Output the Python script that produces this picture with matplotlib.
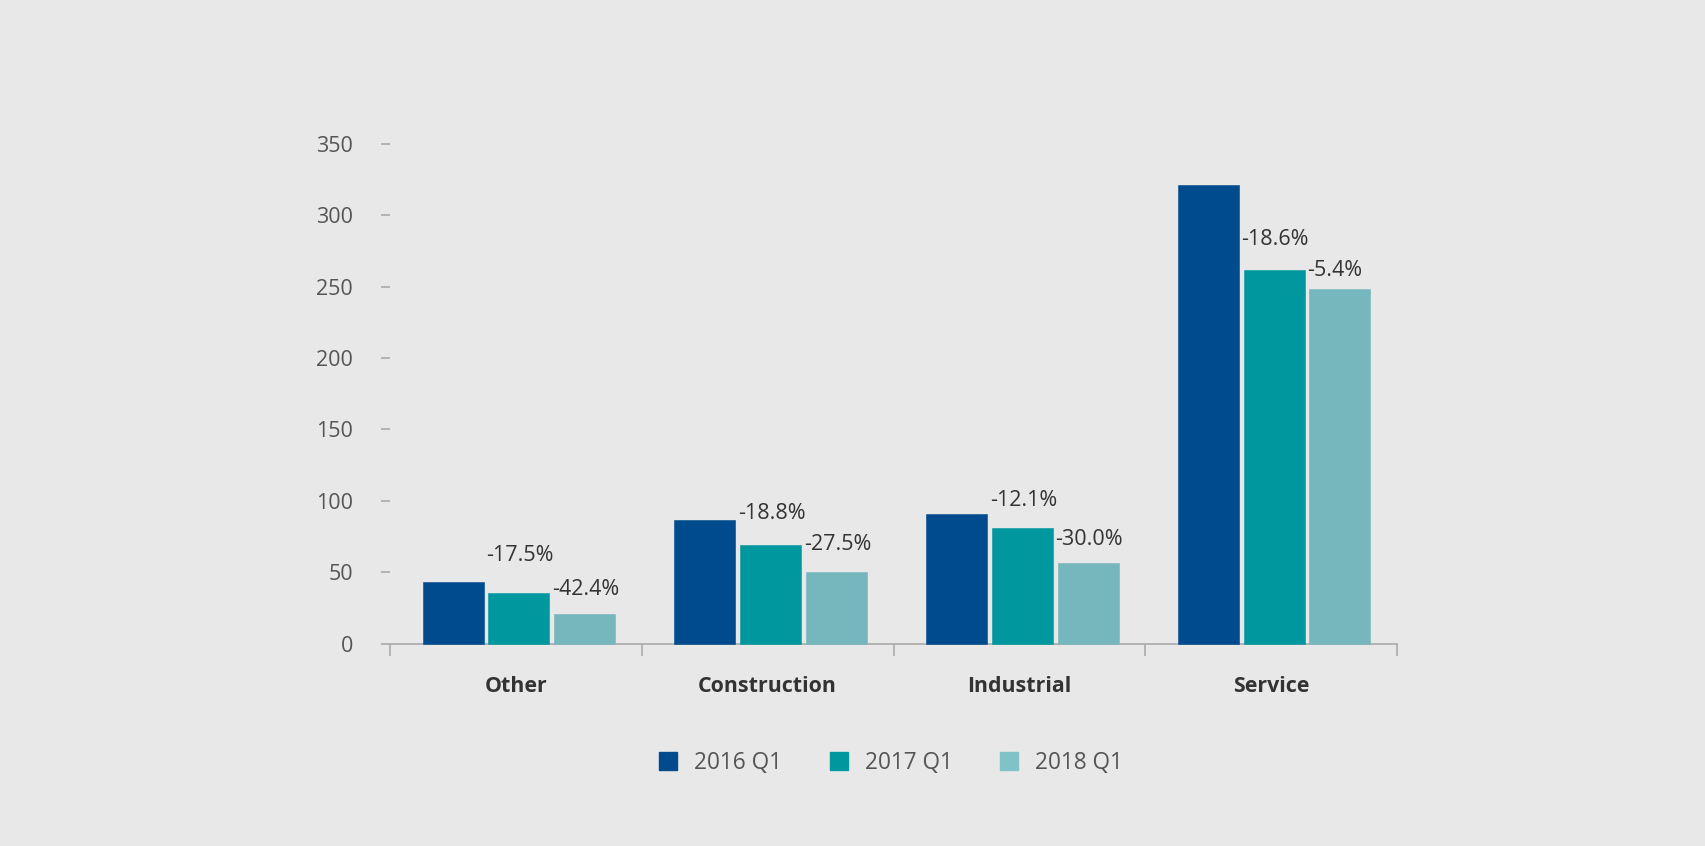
import matplotlib
matplotlib.use("Agg")
import matplotlib.pyplot as plt
from matplotlib.patches import Patch
import numpy as np

plt.rcParams['font.family'] = ['Open Sans', 'DejaVu Sans']

categories = ["Other", "Construction", "Industrial", "Service"]
series_names = ["2016 Q1", "2017 Q1", "2018 Q1"]
v2016 = [43.0, 86.4, 90.8, 321.1]
v2017 = [35.2, 68.8, 81.0, 261.4]
v2018 = [20.5, 50.0, 56.3, 248.1]
labels2017 = ["-17.5%", "-18.8%", "-12.1%", "-18.6%"]
labels2018 = ["-42.4%", "-27.5%", "-30.0%", "-5.4%"]
yticks = [0, 50, 100, 150, 200, 250, 300, 350]

# styling / layout
colors = ["#004B8D", "#00979E", "#75B7BD"]
legend_colors = ["#004B8D", "#00979E", "#7FC3C8"]
off2017 = [38, 32, 27, 31]   # label centre above bar top (px)
off2018 = [25, 28, 24, 19]

W, H = 1705, 846
fig = plt.figure(figsize=(W / 100, H / 100), dpi=100, facecolor="#E8E8E8")
ax_left, ax_right, ax_top, ax_bot = 390, 1397, 143.7, 643.7
ax = fig.add_axes([ax_left / W, 1 - ax_bot / H, (ax_right - ax_left) / W, (ax_bot - ax_top) / H])
ax.set_facecolor("#E8E8E8")

x = np.arange(len(categories))
step = 0.261
width = 0.242
shift = 0.012
series = [v2016, v2017, v2018]
bars = []
for i, (vals, c) in enumerate(zip(series, colors)):
    b = ax.bar(x + shift + (i - 1) * step, vals, width=width, color=c,
               edgecolor=c, linewidth=0.4, zorder=3, clip_on=False)
    bars.append(b)

for labs, offs, bs in [(labels2017, off2017, bars[1]), (labels2018, off2018, bars[2])]:
    for lab, off, r in zip(labs, offs, bs):
        ax.annotate(lab, xy=(r.get_x(), r.get_height()), xytext=(-1.5, off * 0.72),
                    textcoords="offset points", ha="left", va="center",
                    fontsize=15.5, color="#333333", zorder=5)

ax.set_xlim(-0.5, len(categories) - 0.5)
ax.set_ylim(0, 350)
ax.set_yticks(yticks)
ax.set_yticklabels([str(t) for t in yticks])
ax.tick_params(axis="y", length=6.5, width=1.2, color="#AAAAAA", pad=20,
               labelsize=15.5, labelcolor="#555555")
ax.set_xticks(x)
ax.set_xticklabels(categories, fontweight="bold")
ax.tick_params(axis="x", which="major", length=0, pad=23, labelsize=15.4, labelcolor="#333333")
ax.set_xticks(np.arange(-0.5, len(categories), 1.0), minor=True)
ax.tick_params(axis="x", which="minor", length=8.6, width=1.2, color="#AAAAAA")

for s in ["top", "right", "left"]:
    ax.spines[s].set_visible(False)
ax.spines["bottom"].set_color("#AAAAAA")
ax.spines["bottom"].set_linewidth(1.2)
ax.spines["bottom"].set_zorder(2)

handles = [Patch(facecolor=c, edgecolor=c, label=n) for c, n in zip(legend_colors, series_names)]
leg = fig.legend(handles=handles, loc="center", bbox_to_anchor=(891 / W, 1 - 763 / H),
                 ncol=3, frameon=False, fontsize=16.3, handlelength=0.8, handleheight=0.8,
                 handletextpad=0.75, columnspacing=2.1)
for t in leg.get_texts():
    t.set_color("#555555")

fig.savefig("out.png", dpi=100, facecolor=fig.get_facecolor())
